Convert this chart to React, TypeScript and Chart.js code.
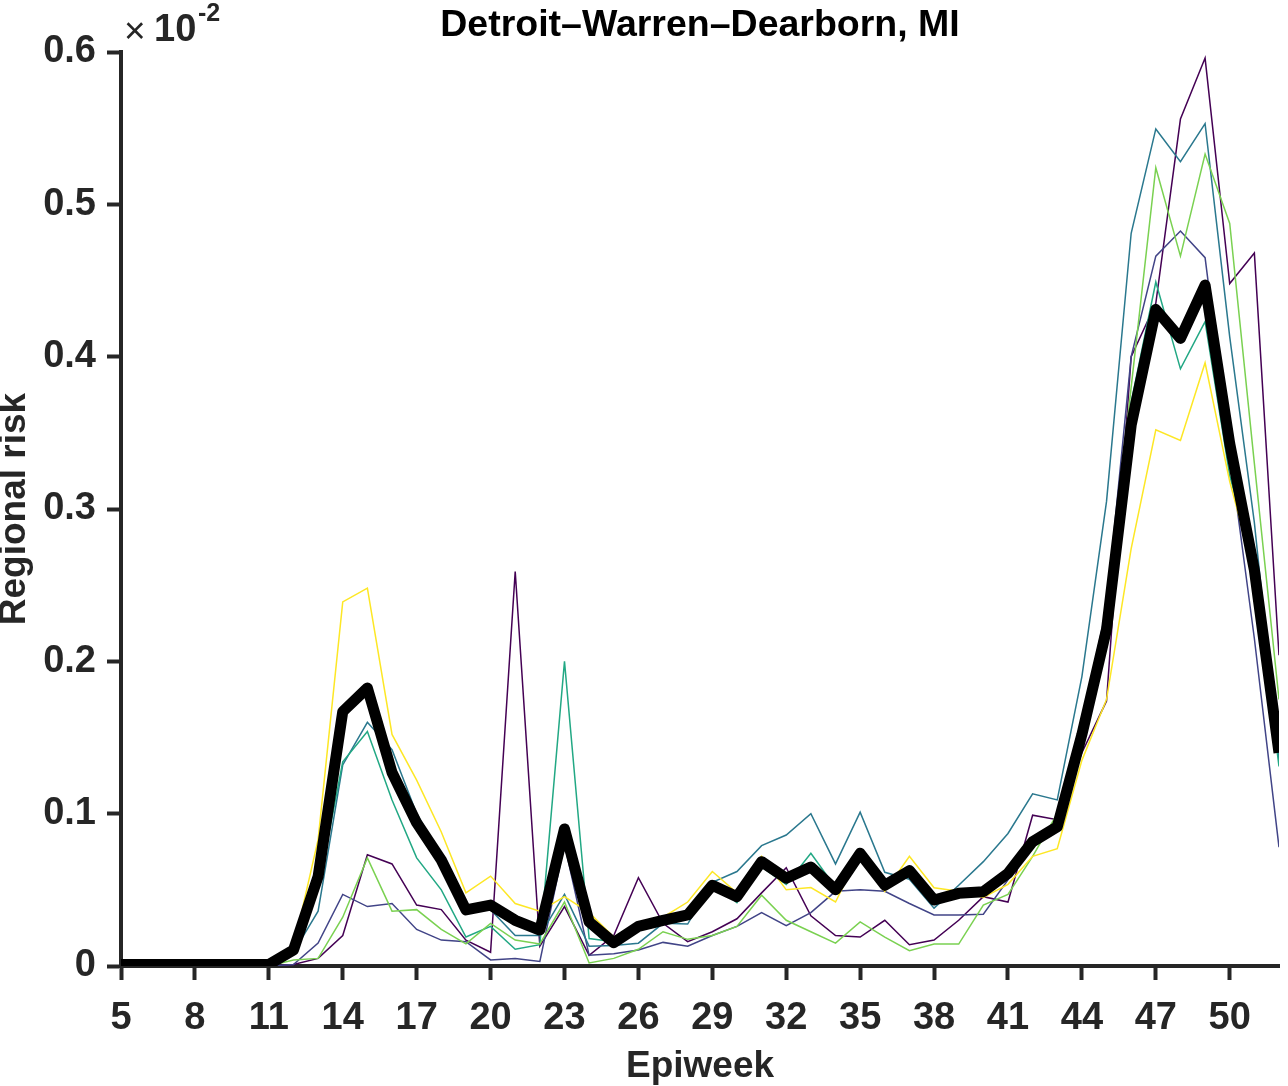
import React, { useEffect, useRef } from 'react';
import { Chart, registerables } from 'chart.js';

Chart.register(...registerables);

const weeks = [5, 6, 7, 8, 9, 10, 11, 12, 13, 14, 15, 16, 17, 18, 19, 20, 21, 22, 23, 24, 25, 26, 27, 28, 29, 30, 31, 32, 33, 34, 35, 36, 37, 38, 39, 40, 41, 42, 43, 44, 45, 46, 47, 48, 49, 50, 51, 52];

const xTicks = [5, 8, 11, 14, 17, 20, 23, 26, 29, 32, 35, 38, 41, 44, 47, 50];
const yTicks = [0, 0.1, 0.2, 0.3, 0.4, 0.5, 0.6];
const yTickLabels = ['0', '0.1', '0.2', '0.3', '0.4', '0.5', '0.6'];

const seriesPurple = [0, 0, 0, 0, 0, 0, 0, 0.001, 0.005, 0.020, 0.073, 0.067, 0.040, 0.037, 0.017, 0.009, 0.259, 0.013, 0.039, 0.007, 0.020, 0.058, 0.028, 0.016, 0.0225, 0.031, 0.048, 0.0645, 0.033, 0.020, 0.019, 0.030, 0.014, 0.017, 0.030, 0.0455, 0.042, 0.099, 0.096, 0.140, 0.174, 0.400, 0.435, 0.556, 0.596, 0.448, 0.468, 0.204];
const seriesIndigo = [0, 0, 0, 0, 0, 0, 0, 0.001, 0.015, 0.047, 0.039, 0.041, 0.024, 0.017, 0.016, 0.004, 0.005, 0.003, 0.080, 0.007, 0.008, 0.0105, 0.0155, 0.013, 0.020, 0.026, 0.035, 0.0265, 0.035, 0.049, 0.050, 0.049, 0.041, 0.0335, 0.0335, 0.034, 0.0565, 0.0805, 0.094, 0.160, 0.235, 0.400, 0.466, 0.4825, 0.465, 0.337, 0.215, 0.078];
const seriesTealBlue = [0, 0, 0, 0, 0, 0, 0, 0.009, 0.036, 0.132, 0.160, 0.142, 0.100, 0.072, 0.039, 0.037, 0.020, 0.020, 0.047, 0.013, 0.0135, 0.015, 0.028, 0.0275, 0.055, 0.062, 0.079, 0.086, 0.100, 0.067, 0.101, 0.0615, 0.057, 0.038, 0.053, 0.0685, 0.087, 0.113, 0.109, 0.190, 0.305, 0.481, 0.5495, 0.528, 0.553, 0.413, 0.291, 0.135];
const seriesTealGreen = [0, 0, 0, 0, 0, 0, 0, 0.0115, 0.050, 0.134, 0.154, 0.109, 0.071, 0.050, 0.019, 0.026, 0.011, 0.014, 0.200, 0.018, 0.016, 0.028, 0.028, 0.032, 0.054, 0.0415, 0.065, 0.0535, 0.074, 0.0515, 0.072, 0.052, 0.0635, 0.044, 0.0465, 0.047, 0.0585, 0.078, 0.096, 0.155, 0.225, 0.370, 0.449, 0.392, 0.423, 0.322, 0.262, 0.131];
const seriesGreen = [0, 0, 0, 0, 0, 0, 0, 0.004, 0.005, 0.032, 0.071, 0.036, 0.037, 0.024, 0.0145, 0.028, 0.017, 0.0145, 0.042, 0.002, 0.005, 0.011, 0.0225, 0.0175, 0.020, 0.026, 0.0465, 0.030, 0.0225, 0.015, 0.029, 0.019, 0.010, 0.0144, 0.0144, 0.040, 0.047, 0.072, 0.100, 0.155, 0.232, 0.380, 0.524, 0.466, 0.533, 0.4875, 0.330, 0.175];
const seriesYellow = [0, 0, 0, 0, 0, 0, 0, 0.012, 0.083, 0.239, 0.248, 0.152, 0.122, 0.088, 0.048, 0.059, 0.041, 0.036, 0.0455, 0.035, 0.019, 0.027, 0.032, 0.042, 0.062, 0.048, 0.072, 0.050, 0.0515, 0.042, 0.0745, 0.049, 0.072, 0.0514, 0.049, 0.045, 0.0536, 0.072, 0.077, 0.135, 0.175, 0.274, 0.352, 0.345, 0.396, 0.318, 0.258, 0.143];
const seriesMean = [0.001, 0.001, 0.001, 0.001, 0.001, 0.001, 0.001, 0.0105, 0.0587, 0.167, 0.1825, 0.127, 0.094, 0.0696, 0.0368, 0.040, 0.030, 0.0236, 0.090, 0.029, 0.0153, 0.026, 0.030, 0.0335, 0.053, 0.0455, 0.0685, 0.0576, 0.065, 0.050, 0.074, 0.053, 0.0626, 0.0433, 0.0477, 0.0488, 0.0608, 0.0816, 0.0914, 0.152, 0.221, 0.355, 0.431, 0.412, 0.447, 0.343, 0.260, 0.140];

const thinSeries = [
  { values: seriesPurple, color: '#440154', order: 6 },
  { values: seriesIndigo, color: '#414487', order: 5 },
  { values: seriesTealBlue, color: '#2A788E', order: 4 },
  { values: seriesTealGreen, color: '#22A884', order: 3 },
  { values: seriesGreen, color: '#7AD151', order: 2 },
  { values: seriesYellow, color: '#FDE725', order: 1 },
];

const FONT = '"Liberation Sans", Arial, Helvetica, sans-serif';
const AXIS = '#262626';

const toPoints = (vals: number[]) => weeks.map((w, i) => ({ x: w, y: vals[i] }));

const exponentPlugin = {
  id: 'exponentLabel',
  afterDraw(chart: any) {
    const { ctx, chartArea } = chart;
    const l = chartArea.left;
    ctx.save();
    ctx.fillStyle = AXIS;
    ctx.textAlign = 'left';
    ctx.textBaseline = 'alphabetic';
    ctx.font = `37px ${FONT}`;
    ctx.fillText('\u00D7', l + 3, 43);
    ctx.font = `bold 38px ${FONT}`;
    ctx.fillText('10', l + 33, 41);
    ctx.font = `bold 25px ${FONT}`;
    ctx.fillText('-2', l + 77, 21);
    ctx.restore();
  },
};

export default function App() {
  const ref = useRef<HTMLCanvasElement>(null);

  useEffect(() => {
    document.body.style.margin = '0';
    const datasets: any[] = [
      {
        label: 'mean',
        data: toPoints(seriesMean),
        borderColor: '#000000',
        backgroundColor: '#000000',
        borderWidth: 11,
        pointRadius: 0,
        borderJoinStyle: 'round',
        tension: 0,
        order: 0,
      },
      ...thinSeries.map((s, i) => ({
        label: 's' + i,
        data: toPoints(s.values),
        borderColor: s.color,
        backgroundColor: s.color,
        borderWidth: 1.5,
        pointRadius: 0,
        tension: 0,
        order: s.order,
      })),
    ];

    const chart = new Chart(ref.current as HTMLCanvasElement, {
      type: 'line',
      data: { datasets },
      plugins: [exponentPlugin],
      options: {
        animation: false,
        responsive: false,
        devicePixelRatio: 1,
        layout: { padding: { left: 0, right: 9, top: 0, bottom: 0 } },
        plugins: {
          legend: { display: false },
          tooltip: { enabled: false },
          title: {
            display: true,
            text: 'Detroit\u2013Warren\u2013Dearborn, MI',
            color: '#000000',
            font: { family: FONT, size: 37.5, weight: 'bold', lineHeight: 1.2 },
            padding: { top: 3.5, bottom: 3.5 },
            fullSize: false,
          },
        },
        scales: {
          x: {
            type: 'linear',
            min: 5,
            max: 52,
            afterBuildTicks: (scale: any) => {
              scale.ticks = xTicks.map((v) => ({ value: v }));
            },
            afterFit: (scale: any) => {
              scale.height = 120;
            },
            grid: {
              drawOnChartArea: false,
              drawTicks: true,
              tickLength: 14,
              tickWidth: 4,
              tickColor: AXIS,
            },
            border: { display: true, color: AXIS, width: 4 },
            ticks: {
              color: AXIS,
              font: { family: FONT, size: 38, weight: 'bold' },
              padding: 16,
              maxRotation: 0,
              autoSkip: false,
              callback: (v: any) => String(v),
            },
            title: {
              display: true,
              text: 'Epiweek',
              color: AXIS,
              font: { family: FONT, size: 37, weight: 'bold', lineHeight: 1.05 },
              padding: { top: 0, bottom: 0 },
            },
          },
          y: {
            type: 'linear',
            min: 0,
            max: 0.6,
            afterBuildTicks: (scale: any) => {
              scale.ticks = yTicks.map((v) => ({ value: v }));
            },
            afterFit: (scale: any) => {
              scale.width = 121;
            },
            grid: {
              drawOnChartArea: false,
              drawTicks: true,
              tickLength: 14,
              tickWidth: 4,
              tickColor: AXIS,
            },
            border: { display: true, color: AXIS, width: 4 },
            ticks: {
              color: AXIS,
              font: { family: FONT, size: 38, weight: 'bold' },
              padding: 11,
              autoSkip: false,
              callback: (_v: any, i: number) => yTickLabels[i],
            },
            title: {
              display: true,
              text: 'Regional risk',
              color: AXIS,
              font: { family: FONT, size: 37, weight: 'bold', lineHeight: 0.8 },
              padding: { top: 0, bottom: 0 },
            },
          },
        },
      } as any,
    });
    return () => chart.destroy();
  }, []);

  return (
    <div style={{ position: 'absolute', left: 0, top: 0, width: 1288, height: 1086, background: '#ffffff' }}>
      <canvas ref={ref} width={1288} height={1086} style={{ display: 'block', width: 1288, height: 1086 }} />
    </div>
  );
}
